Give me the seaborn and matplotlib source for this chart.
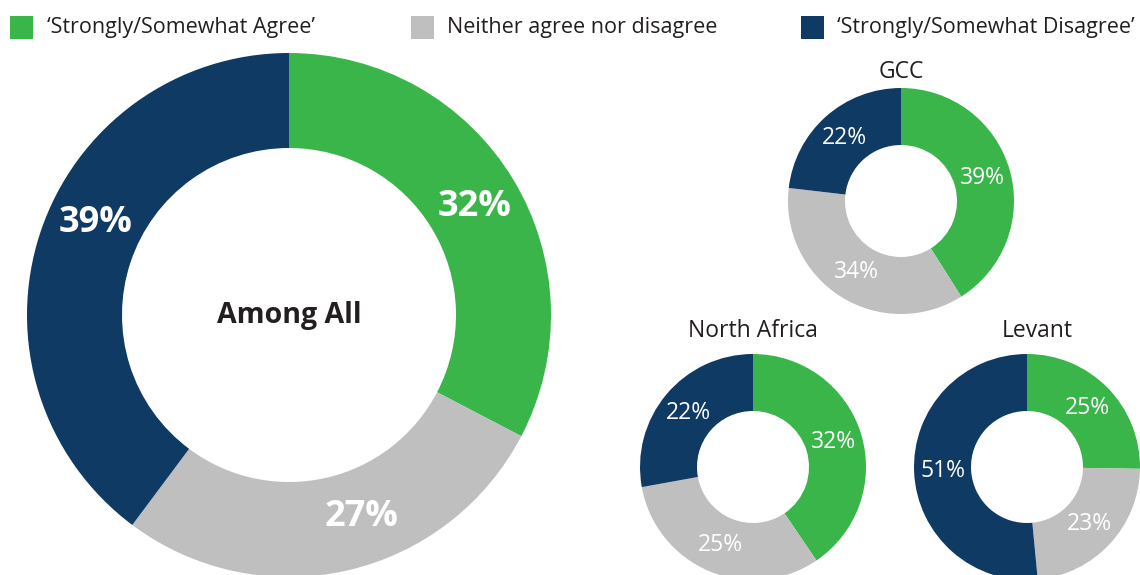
import matplotlib
matplotlib.use("Agg")
import numpy as np
import matplotlib.pyplot as plt
import seaborn as sns
from matplotlib.patches import Rectangle

# ---- data ----
categories = ["\u2018Strongly/Somewhat Agree\u2019", "Neither agree nor disagree",
              "\u2018Strongly/Somewhat Disagree\u2019"]
among_all = [32, 27, 39]
gcc = [39, 34, 22]
north_africa = [32, 25, 22]
levant = [25, 23, 51]
group_titles = ["GCC", "North Africa", "Levant"]

colors = ["#39B54A", "#BFBFBF", "#0F3A64"]
text_dark = "#231F20"

sns.set_theme(style="white")
plt.rcParams['font.family'] = ['Open Sans', 'DejaVu Sans']

W, H = 1140, 575
fig = plt.figure(figsize=(W / 100, H / 100), dpi=100)
ax = fig.add_axes([0, 0, 1, 1])


def fy(y):
    return H - y


def donut(values, cx, cy, r_out, r_in, fs, weight, angle_shift=None):
    total = sum(values)
    wedges, texts, autotexts = ax.pie(
        values, colors=colors, startangle=90, counterclock=False,
        center=(cx, fy(cy)), radius=r_out,
        wedgeprops=dict(width=r_out - r_in, linewidth=0),
        autopct=lambda p: f"{round(p * total / 100):.0f}%",
        pctdistance=(r_out + r_in) / 2 / r_out,
        textprops=dict(color="white", fontsize=fs, fontweight=weight))
    if angle_shift is not None:
        rm = (r_out + r_in) / 2
        for w, t, da in zip(wedges, autotexts, angle_shift):
            ang = np.deg2rad((w.theta1 + w.theta2) / 2 + da)
            t.set_position((cx + rm * np.cos(ang), fy(cy) + rm * np.sin(ang)))
    return wedges


# big donut (label angle nudges in degrees, counter-clockwise positive)
donut(among_all, 289, 315, 262, 167, 26, "bold", angle_shift=[-1, 7, -7])
ax.text(289, fy(315), "Among All", ha="center", va="center",
        fontsize=20.5, fontweight="bold", color=text_dark)

# small donuts
small = [(gcc, 901, 201), (north_africa, 753, 467), (levant, 1027, 467)]
title_pos = [(901, 72), (753, 331), (1037, 331)]
for (vals, cx, cy), title, (tx, ty) in zip(small, group_titles, title_pos):
    donut(vals, cx, cy, 113, 56, 16.5, "normal")
    ax.text(tx, fy(ty), title, ha="center", va="center", fontsize=16.5, color=text_dark)

# legend
leg_sq_x = [10, 411, 801]
leg_tx_x = [47, 447, 837]
for c, lab, sx, tx in zip(colors, categories, leg_sq_x, leg_tx_x):
    ax.add_patch(Rectangle((sx, fy(39)), 23, 23, color=c, lw=0))
    ax.text(tx, fy(28), lab, ha="left", va="center", fontsize=15.5, color=text_dark)

ax.set_xlim(0, W)
ax.set_ylim(0, H)
ax.set_aspect("equal", adjustable="box")
ax.axis("off")

fig.savefig("out.png", dpi=100, facecolor="white")
